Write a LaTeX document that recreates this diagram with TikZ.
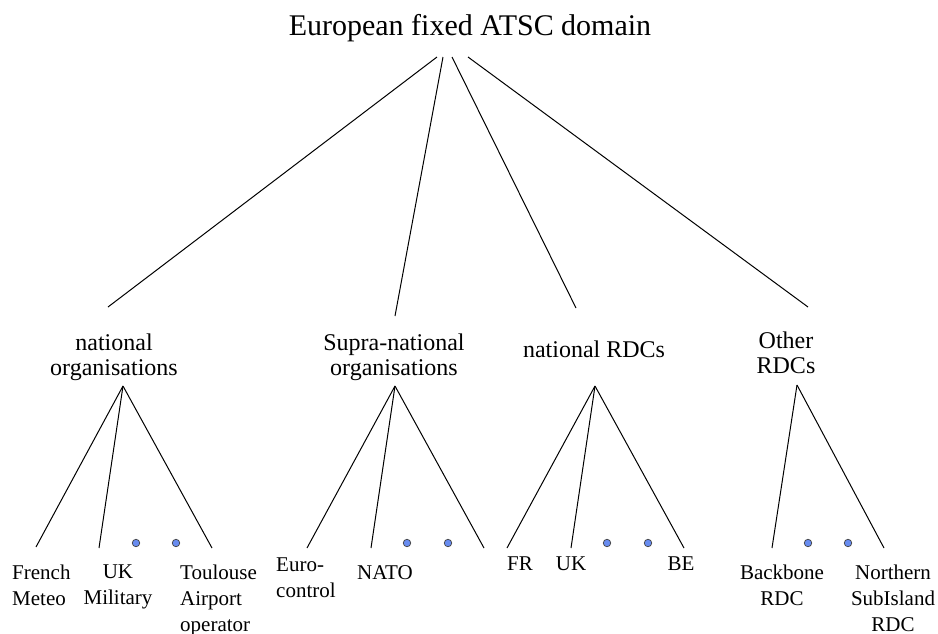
\documentclass[tikz,border=0pt]{standalone}
\usepackage{fontspec}
\setmainfont{Liberation Serif}
\usetikzlibrary{positioning}
\definecolor{dotblue}{RGB}{104,140,240}

\begin{document}
\begin{tikzpicture}[x=1pt,y=-1pt,
    grp/.style={inner sep=0,anchor=north,align=center,font=\fontsize{24}{25}\selectfont},
    leaf/.style={inner sep=0,anchor=north,align=center,font=\fontsize{21}{26}\selectfont},
    link/.style={line width=1pt},
    dot/.style={circle,draw=black!75,fill=dotblue,line width=0.7pt,minimum size=7.5pt,inner sep=0}]
      \useasboundingbox (0,0) rectangle (938,633);
      % top of the tree
      \node[inner sep=0,anchor=north,font=\fontsize{30}{36}\selectfont] (domain) at (470,14.5) {European fixed ATSC domain};
      \coordinate (d1) at (437,57);
      \coordinate (d2) at (443,57);
      \coordinate (d3) at (452,57);
      \coordinate (d4) at (468,57);
      % second level
      \node[grp] (natorg) at (114,334) {national\\organisations};
      \node[grp] (suporg) at (394,334) {Supra-national\\organisations};
      \node[grp] (natrdc) at (594,341) {national RDCs};
      \node[grp] (othrdc) at (786,332) {Other\\RDCs};
      \coordinate (natorgtop) at (108,307);
      \coordinate (suporgtop) at (395,316);
      \coordinate (natrdctop) at (576,308);
      \coordinate (othrdctop) at (808,307);
      \draw[link] (d1)--(natorgtop);
      \draw[link] (d2)--(suporgtop);
      \draw[link] (d3)--(natrdctop);
      \draw[link] (d4)--(othrdctop);
      % apexes of the sub-trees
      \coordinate (natorgapex) at (123,386);
      \coordinate (suporgapex) at (395,386);
      \coordinate (natrdcapex) at (595,386);
      \coordinate (othrdcapex) at (797,385);
      % leaves
      \node[leaf,anchor=north west,align=left] (meteo) at (12,565) {French\\Meteo};
      \node[leaf] (ukmil) at (118,565) {UK\\Military};
      \node[leaf,anchor=north west,align=left] (toulouse) at (180,565) {Toulouse\\Airport\\operator};
      \node[leaf,anchor=north west,align=left] (euro) at (276,558) {Euro-\\control};
      \node[leaf] (nato) at (385,565) {NATO};
      \node[leaf] (fr) at (520,557) {FR};
      \node[leaf] (uk) at (571,557) {UK};
      \node[leaf] (be) at (681,557) {BE};
      \node[leaf] (backbone) at (782,565) {Backbone\\RDC};
      \node[leaf] (northern) at (893,565) {Northern\\SubIsland\\RDC};
      \coordinate (meteotop) at (36,547);
      \coordinate (ukmiltop) at (99,548);
      \coordinate (toulousetop) at (212,548);
      \coordinate (eurotop) at (307,548);
      \coordinate (natotop) at (371,548);
      \coordinate (supothertop) at (484,548);
      \coordinate (frtop) at (507,548);
      \coordinate (uktop) at (571,548);
      \coordinate (betop) at (684,548);
      \coordinate (backbonetop) at (772,548);
      \coordinate (northerntop) at (884,548);
      \draw[link] (natorgapex)--(meteotop);
      \draw[link] (natorgapex)--(ukmiltop);
      \draw[link] (natorgapex)--(toulousetop);
      \draw[link] (suporgapex)--(eurotop);
      \draw[link] (suporgapex)--(natotop);
      \draw[link] (suporgapex)--(supothertop);
      \draw[link] (natrdcapex)--(frtop);
      \draw[link] (natrdcapex)--(uktop);
      \draw[link] (natrdcapex)--(betop);
      \draw[link] (othrdcapex)--(backbonetop);
      \draw[link] (othrdcapex)--(northerntop);
      % dots for the leaves left out
      \node[dot] (natorgdotA) at (136,543) {};
      \node[dot] (natorgdotB) at (176,543) {};
      \node[dot] (suporgdotA) at (407,543) {};
      \node[dot] (suporgdotB) at (448,543) {};
      \node[dot] (natrdcdotA) at (607,543) {};
      \node[dot] (natrdcdotB) at (648,543) {};
      \node[dot] (othrdcdotA) at (808,543) {};
      \node[dot] (othrdcdotB) at (848,543) {};
\end{tikzpicture}
\end{document}
